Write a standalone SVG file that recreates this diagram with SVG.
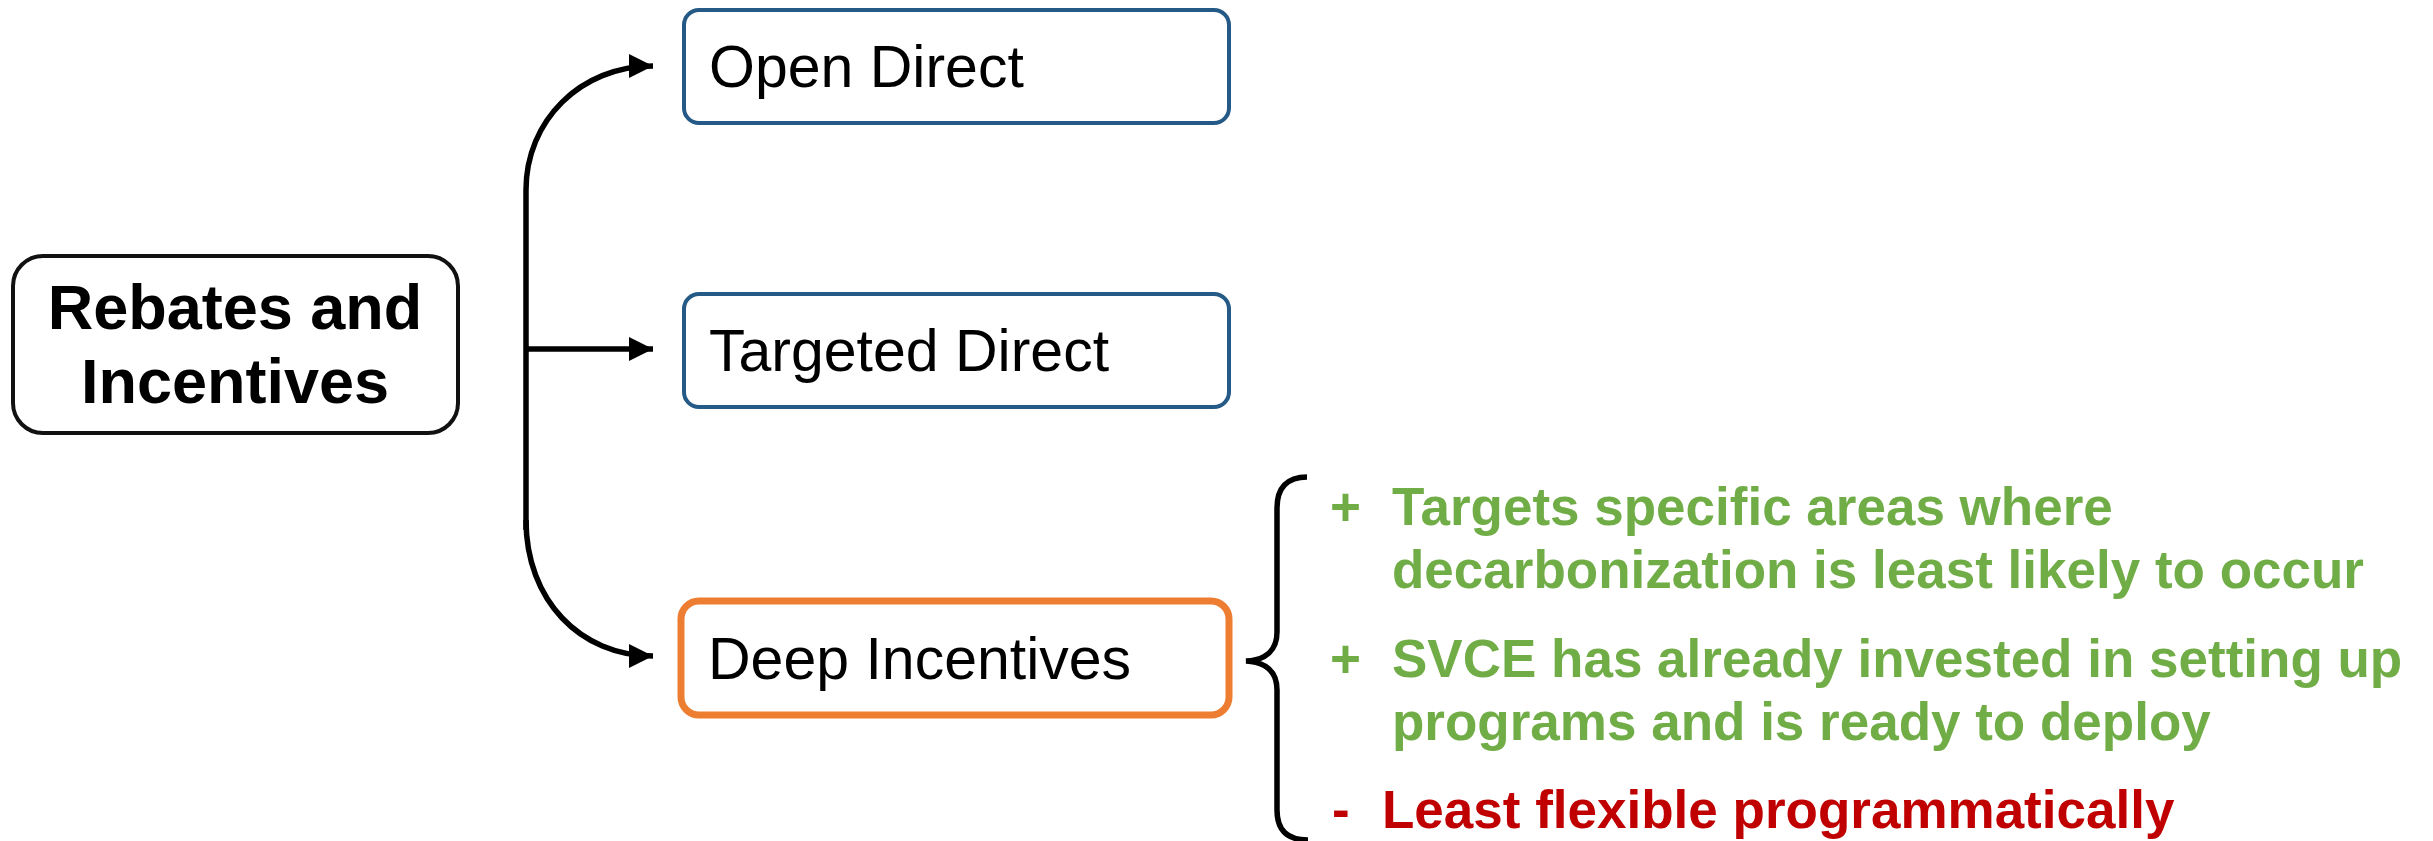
<svg xmlns="http://www.w3.org/2000/svg" width="2433" height="841" viewBox="0 0 2433 841">
<style>
.box{fill:#fff}
.main{stroke:#111;stroke-width:4}
.blue{stroke:#245a85;stroke-width:4}
.orange{stroke:#ed7d31;stroke-width:7}
.t{font-family:"Liberation Sans",Arial,sans-serif;fill:#000}
.node{font-size:59px}
.title{font-size:63px;font-weight:bold}
.b{font-family:"Liberation Sans",Arial,sans-serif;font-size:53px;font-weight:bold}
.g{fill:#70ad47}
.r{fill:#c00000}
.conn{fill:none;stroke:#000;stroke-width:5.5}
</style>
<defs>
<marker id="ah" markerUnits="userSpaceOnUse" markerWidth="26" markerHeight="24" refX="24" refY="12" orient="auto">
<path d="M0,0 L24,12 L0,24 Z" fill="#000"/>
</marker>
</defs>
<rect width="2433" height="841" fill="#fff"/>
<g id="connectors">
<path class="conn" d="M526,530 L526,190 C526,121 580,66 653,66" marker-end="url(#ah)"/>
<path class="conn" d="M526,349 L653,349" marker-end="url(#ah)"/>
<path class="conn" d="M526,520 C526,600 580,656 653,656" marker-end="url(#ah)"/>
</g>
<g id="node-rebates">
<rect class="box main" x="13" y="256" width="445" height="177" rx="30"/>
<text class="t title" x="235" y="329" text-anchor="middle">Rebates and</text>
<text class="t title" x="235" y="403" text-anchor="middle">Incentives</text>
</g>
<g id="node-open-direct">
<rect class="box blue" x="684" y="10" width="545" height="113" rx="15"/>
<text class="t node" x="709" y="87">Open Direct</text>
</g>
<g id="node-targeted-direct">
<rect class="box blue" x="684" y="294" width="545" height="113" rx="15"/>
<text class="t node" x="709" y="371">Targeted Direct</text>
</g>
<g id="node-deep-incentives">
<rect class="box orange" x="681" y="601" width="548" height="114" rx="18"/>
<text class="t node" x="708" y="679">Deep Incentives</text>
</g>
<g id="brace">
<path class="conn" stroke-width="4" d="M1307,477 C1287,477 1277,488 1277,508 L1277,632 C1277,650 1266,660 1246,661 C1266,662 1277,672 1277,690 L1277,810 C1277,830 1287,840 1308,840"/>
</g>
<g id="notes">
<text class="b g" x="1330" y="525">+</text>
<text class="b g" x="1392" y="525">Targets specific areas where</text>
<text class="b g" x="1392" y="588">decarbonization is least likely to occur</text>
<text class="b g" x="1330" y="677">+</text>
<text class="b g" x="1392" y="677">SVCE has already invested in setting up</text>
<text class="b g" x="1392" y="740">programs and is ready to deploy</text>
<text class="b r" x="1332" y="828">-</text>
<text class="b r" x="1382" y="828">Least flexible programmatically</text>
</g>
</svg>
